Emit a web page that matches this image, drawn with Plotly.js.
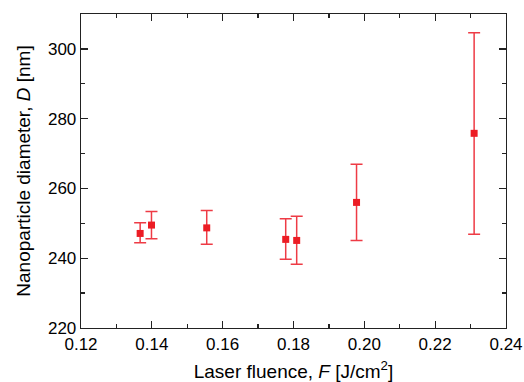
<!DOCTYPE html>
<html>
<head>
<meta charset="utf-8">
<script src="https://cdn.plot.ly/plotly-3.0.1.min.js"></script>
<style>html,body{margin:0;padding:0;background:#fff;}#chart{width:524px;height:382px;}</style>
</head>
<body>
<div id="chart"></div>
<script>
const fluence = [0.1367, 0.1399, 0.1555, 0.1778, 0.1809, 0.1978, 0.2310];
const diameter = [247.1, 249.5, 248.7, 245.4, 245.1, 256.0, 275.8];
const errUpper = [250.2, 253.4, 253.7, 251.3, 252.0, 266.9, 304.6];
const errLower = [244.4, 245.6, 244.0, 239.7, 238.3, 245.1, 246.9];

const plus = diameter.map((d, i) => errUpper[i] - d);
const minus = diameter.map((d, i) => d - errLower[i]);

const trace = {
  x: fluence, y: diameter, type: 'scatter', mode: 'markers',
  marker: {symbol: 'square', size: 7, color: '#ec1c24'},
  error_y: {type: 'data', symmetric: false, array: plus, arrayminus: minus,
            color: '#ee3b45', thickness: 1.5, width: 6},
  showlegend: false, hoverinfo: 'skip'
};

const font = {family: 'Liberation Sans, Arial, sans-serif', color: '#000'};
const layout = {
  width: 524, height: 382,
  margin: {l: 81, r: 18, t: 14, b: 54},
  paper_bgcolor: '#fff', plot_bgcolor: '#fff',
  font: font,
  xaxis: {
    range: [0.12, 0.24], dtick: 0.02, tick0: 0.12, tickformat: '.2f',
    ticks: 'inside', ticklen: 7, tickwidth: 1.3, tickcolor: '#222',
    minor: {dtick: 0.01, ticks: 'inside', ticklen: 4, tickwidth: 1.3, tickcolor: '#222'},
    showline: true, linecolor: '#222', linewidth: 1.3, mirror: 'allticks',
    showgrid: false, zeroline: false,
    tickfont: {family: font.family, size: 17, color: '#000'},
    title: {text: 'Laser fluence, <i>F</i> [J/cm<sup>2</sup>]', font: {family: font.family, size: 19, color: '#000'}, standoff: 12}
  },
  yaxis: {
    range: [220, 310], dtick: 20, tick0: 220,
    ticks: 'inside', ticklen: 7, tickwidth: 1.3, tickcolor: '#222',
    minor: {dtick: 10, ticks: 'inside', ticklen: 4, tickwidth: 1.3, tickcolor: '#222'},
    showline: true, linecolor: '#222', linewidth: 1.3, mirror: 'allticks',
    showgrid: false, zeroline: false,
    tickfont: {family: font.family, size: 17, color: '#000'},
    title: {text: 'Nanoparticle diameter, <i>D</i> [nm]', font: {family: font.family, size: 19, color: '#000'}, standoff: 12}
  }
};

Plotly.newPlot('chart', [trace], layout, {displayModeBar: false, staticPlot: true});
</script>
</body>
</html>
